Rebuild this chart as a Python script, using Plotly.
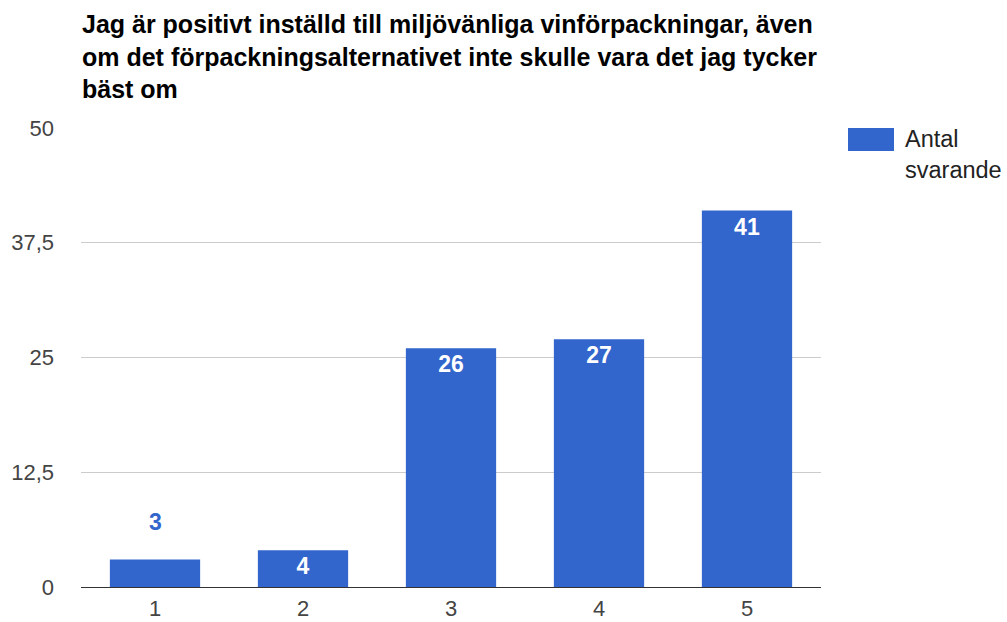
import plotly.graph_objects as go

# Survey answers on a 1-5 scale and the number of respondents for each
categories = ["1", "2", "3", "4", "5"]
counts = [3, 4, 26, 27, 41]
y_tick_values = [0, 12.5, 25, 37.5, 50]
y_tick_labels = ["0", "12,5", "25", "37,5", "50"]
series_name = "Antal svarande"
title_text = ("Jag är positivt inställd till miljövänliga vinförpackningar, även<br>"
              "om det förpackningsalternativet inte skulle vara det jag tycker<br>"
              "bäst om")

BAR_COLOR = "#3366cc"
FONT = "Liberation Sans, Arial, sans-serif"

# Plot-area geometry in pixels (used to place the title and legend)
W, H = 1007, 622
L, R, T, B = 81, 186, 128, 35
PW, PH = W - L - R, H - T - B


def px_x(x):
    return (x - L) / PW


def px_y(y):
    return (H - B - y) / PH


# Small bars get their label above the bar, the rest inside near the top
inside = [c >= 4 for c in counts]
bar_text = [str(c) if ins else "" for c, ins in zip(counts, inside)]

fig = go.Figure()
fig.add_trace(go.Bar(
    x=categories,
    y=counts,
    name=series_name,
    marker=dict(color=BAR_COLOR, line=dict(width=0)),
    text=bar_text,
    textposition="inside",
    insidetextanchor="end",
    textangle=0,
    insidetextfont=dict(family=FONT, size=23, color="white", weight="bold"),
    showlegend=False,
    hoverinfo="x+y",
))

annotations = []
for i, (c, ins) in enumerate(zip(counts, inside)):
    if not ins:
        annotations.append(dict(
            x=i, y=c, xref="x", yref="y", text=f"<b>{c}</b>", showarrow=False,
            yanchor="bottom", yshift=22,
            font=dict(family=FONT, size=23, color=BAR_COLOR),
        ))

# Title, left-aligned bold text above the plot
annotations.append(dict(
    x=px_x(80), y=px_y(8), xref="paper", yref="paper",
    text=f"<b>{title_text}</b>", showarrow=False,
    xanchor="left", yanchor="top", align="left",
    font=dict(family=FONT, size=25, color="#000000"),
))

# Legend entry on the right: a wide colour swatch with its two-line label
fig.add_shape(type="rect", xref="paper", yref="paper",
              x0=px_x(848), x1=px_x(894), y0=px_y(151), y1=px_y(128),
              fillcolor=BAR_COLOR, line=dict(width=0))
annotations.append(dict(
    x=px_x(903), y=px_y(124), xref="paper", yref="paper",
    text="Antal<br>svarande", showarrow=False, xanchor="left", yanchor="top",
    align="left", font=dict(family=FONT, size=23.5, color="#222222"),
))

fig.update_layout(
    width=W, height=H,
    margin=dict(l=L, r=R, t=T, b=B),
    paper_bgcolor="white", plot_bgcolor="white",
    font=dict(family=FONT, size=22, color="#444444"),
    bargap=0.39,
    annotations=annotations,
    xaxis=dict(showgrid=False, showline=False, ticks="", automargin=False,
               tickfont=dict(size=22, color="#444444"), ticklabelstandoff=6),
    yaxis=dict(range=[0, 50], tickvals=y_tick_values, ticktext=y_tick_labels,
               showgrid=True, gridcolor="#cccccc", gridwidth=1,
               zeroline=True, zerolinecolor="#333333", zerolinewidth=1,
               showline=False, ticks="", ticklabelstandoff=26, automargin=False,
               tickfont=dict(size=22, color="#444444")),
)

fig.write_html("out.html")
